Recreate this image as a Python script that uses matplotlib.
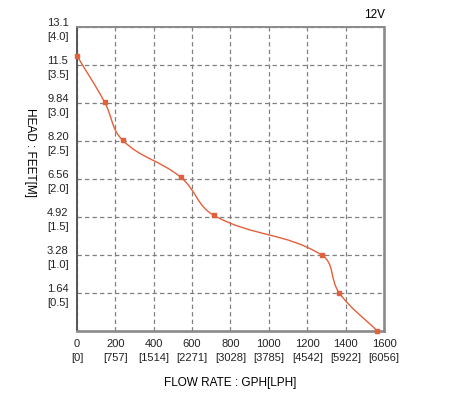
import numpy as np
import matplotlib.pyplot as plt
from matplotlib.path import Path
from matplotlib.patches import PathPatch

plt.rcParams['font.family'] = ['Liberation Sans', 'DejaVu Sans']

# Pontos da curva (vazão em GPH, altura em metros)
flow_gph = [0, 144, 238, 542, 714, 1275, 1367, 1565]
head_m = [3.62, 3.01, 2.51, 2.02, 1.52, 1.0, 0.5, 0.0]

x_ticks = [0, 200, 400, 600, 800, 1000, 1200, 1400, 1600]
x_lph = ["0", "757", "1514", "2271", "3028", "3785", "4542", "5922", "6056"]
y_ticks = [0.5, 1.0, 1.5, 2.0, 2.5, 3.0, 3.5, 4.0]
y_feet = ["1.64", "3.28", "4.92", "6.56", "8.20", "9.84", "11.5", "13.1"]

cor = "#E2603A"


def curva_bezier(xs, ys, sx, sy, tensao=0.4):
    # linha suave por curvas de Bezier (pontos de controle na escala da tela)
    p = np.column_stack([np.array(xs) * sx, np.array(ys) * sy])
    n = len(p)
    verts = [p[0]]
    codes = [Path.MOVETO]
    ctrl = []
    for i in range(n):
        a = p[max(i - 1, 0)]
        b = p[i]
        c = p[min(i + 1, n - 1)]
        d01 = np.hypot(*(b - a))
        d12 = np.hypot(*(c - b))
        tot = d01 + d12
        s01 = d01 / tot if tot else 0
        s12 = d12 / tot if tot else 0
        ctrl.append((b - tensao * s01 * (c - a), b + tensao * s12 * (c - a)))
    for i in range(n - 1):
        verts += [ctrl[i][1], ctrl[i + 1][0], p[i + 1]]
        codes += [Path.CURVE4] * 3
    verts = np.array(verts) / [sx, sy]
    return Path(verts, codes)


fig = plt.figure(figsize=(4.52, 3.98), dpi=100)
ax = fig.add_axes([77 / 452, 1 - 331 / 398, 307 / 452, 304 / 398])

caminho = curva_bezier(flow_gph, head_m, 307 / 1600, 304 / 4.0)
ax.add_patch(PathPatch(caminho, fill=False, edgecolor=cor, lw=1.0, clip_on=False, zorder=3))
ax.plot(flow_gph, head_m, 's', color=cor, ms=3.0, clip_on=False, zorder=4)

ax.set_xlim(0, 1600)
ax.set_ylim(0, 4.0)
ax.set_xticks(x_ticks)
ax.set_xticklabels([f"{g}\n[{l}]" for g, l in zip(x_ticks, x_lph)], fontsize=8, linespacing=1.45)
ax.set_yticks(y_ticks)
ax.set_yticklabels([f"{f}\n[{m:.1f}]" for f, m in zip(y_feet, y_ticks)], fontsize=8,
                   linespacing=1.45, multialignment='left')
ax.tick_params(length=0, pad=6, colors="#222222")

ax.grid(True, color="#808080", linestyle=(0, (3.5, 2.5)), lw=0.9)
for lado, s in ax.spines.items():
    s.set_color("#555555" if lado == "left" else "#8a8a8a")
    s.set_linewidth(1.4 if lado in ("left", "top") else 1.9)

fig.text(230 / 452, 1 - 383 / 398, "FLOW RATE : GPH[LPH]", ha='center', va='center', fontsize=8.5)
fig.text(30 / 452, 1 - 152 / 398, "HEAD : FEET[M]", ha='center', va='center', fontsize=8.5, rotation=270)
fig.text(375 / 452, 1 - 15 / 398, "12V", ha='center', va='center', fontsize=8.5)

fig.savefig("out.png", dpi=100)
